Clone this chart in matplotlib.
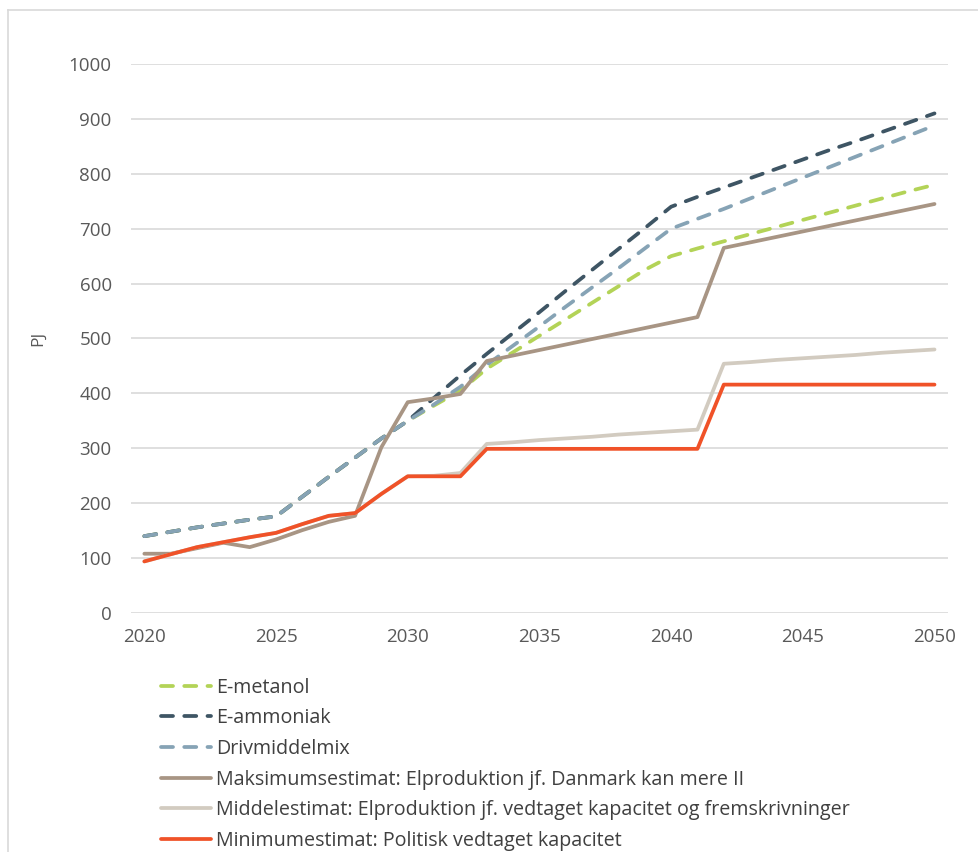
import matplotlib.pyplot as plt
from matplotlib.lines import Line2D

plt.rcParams['font.family'] = ['Open Sans', 'DejaVu Sans']

# Data (PJ)
years = list(range(2020, 2051))

e_metanol = [140, 148, 156, 163, 170, 176, 212, 248, 283, 318,
             350, 378, 405, 445, 475, 505, 535, 565, 595, 625,
             650, 664, 677, 690, 703, 716, 729, 742, 755, 768, 780]
e_ammoniak = [140, 148, 156, 163, 170, 176, 212, 248, 283, 318,
              350, 392, 433, 472, 510, 548, 587, 625, 663, 701,
              740, 758, 775, 792, 809, 826, 843, 859, 876, 893, 910]
drivmiddelmix = [140, 148, 156, 163, 170, 176, 212, 248, 283, 318,
                 350, 380, 412, 452, 487, 522, 558, 593, 628, 664,
                 700, 718, 736, 755, 774, 793, 812, 831, 850, 869, 888]
maks = [108, 108, 118, 128, 120, 134, 151, 166, 177, 302,
        384, 391, 399, 459, 469, 479, 489, 499, 509, 519,
        529, 539, 665, 675, 685, 695, 705, 715, 725, 735, 745]
middel = [94, 107, 120, 129, 138, 146, 162, 177, 182, 217,
          249, 250, 255, 308, 311, 315, 318, 321, 325, 328,
          331, 334, 454, 457, 461, 464, 467, 470, 474, 477, 480]
minimum = [94, 107, 120, 129, 138, 146, 162, 177, 182, 217,
           249, 249, 249, 299, 299, 299, 299, 299, 299, 299,
           299, 299, 416, 416, 416, 416, 416, 416, 416, 416, 416]

labels = ['E-metanol', 'E-ammoniak', 'Drivmiddelmix',
          'Maksimumsestimat: Elproduktion jf. Danmark kan mere II',
          'Middelestimat: Elproduktion jf. vedtaget kapacitet og fremskrivninger',
          'Minimumestimat: Politisk vedtaget kapacitet']
colors = ['#B3D357', '#3E5564', '#86A3B5', '#A89584', '#D2CBC0', '#F05228']

fig = plt.figure(figsize=(9.79, 8.52), dpi=100)
ax = fig.add_axes([0.134, 0.2805, 0.834, 0.6444])

series = [e_metanol, e_ammoniak, drivmiddelmix, maks, middel, minimum]
for i, (vals, lab, col) in enumerate(zip(series, labels, colors)):
    if i < 3:
        ax.plot(years, vals, color=col, lw=2.7, label=lab,
                dashes=(3.2, 3.0), dash_capstyle='round')
    else:
        ax.plot(years, vals, color=col, lw=2.7, label=lab,
                solid_capstyle='round')

ax.set_xlim(2019.5, 2050.5)
ax.set_ylim(0, 1000)
ax.set_yticks(range(0, 1001, 100))
ax.set_xticks(range(2020, 2051, 5))
ax.grid(axis='y', color='#D9D9D9', lw=1.2)
ax.set_axisbelow(True)
for s in ax.spines.values():
    s.set_visible(False)
ax.tick_params(length=0, labelsize=13.5, labelcolor='#595959', pad=14)
ax.tick_params(axis='x', pad=11)
ax.set_ylabel('PJ', fontsize=12.5, color='#595959', labelpad=16)

fig.legend(loc='upper left', bbox_to_anchor=(0.156, 0.214), frameon=False,
           fontsize=14.2, handlelength=2.55, handletextpad=0.25,
           labelspacing=0.54, borderaxespad=0, labelcolor='#404040')

# chart border (partially visible in the reference)
fig.add_artist(Line2D([8 / 979, 8 / 979], [0, 1 - 10 / 852],
                      color='#D9D9D9', lw=1.2))
fig.add_artist(Line2D([8 / 979, 1], [1 - 10 / 852, 1 - 10 / 852],
                      color='#D9D9D9', lw=1.2))

fig.savefig('out.png', dpi=100)
